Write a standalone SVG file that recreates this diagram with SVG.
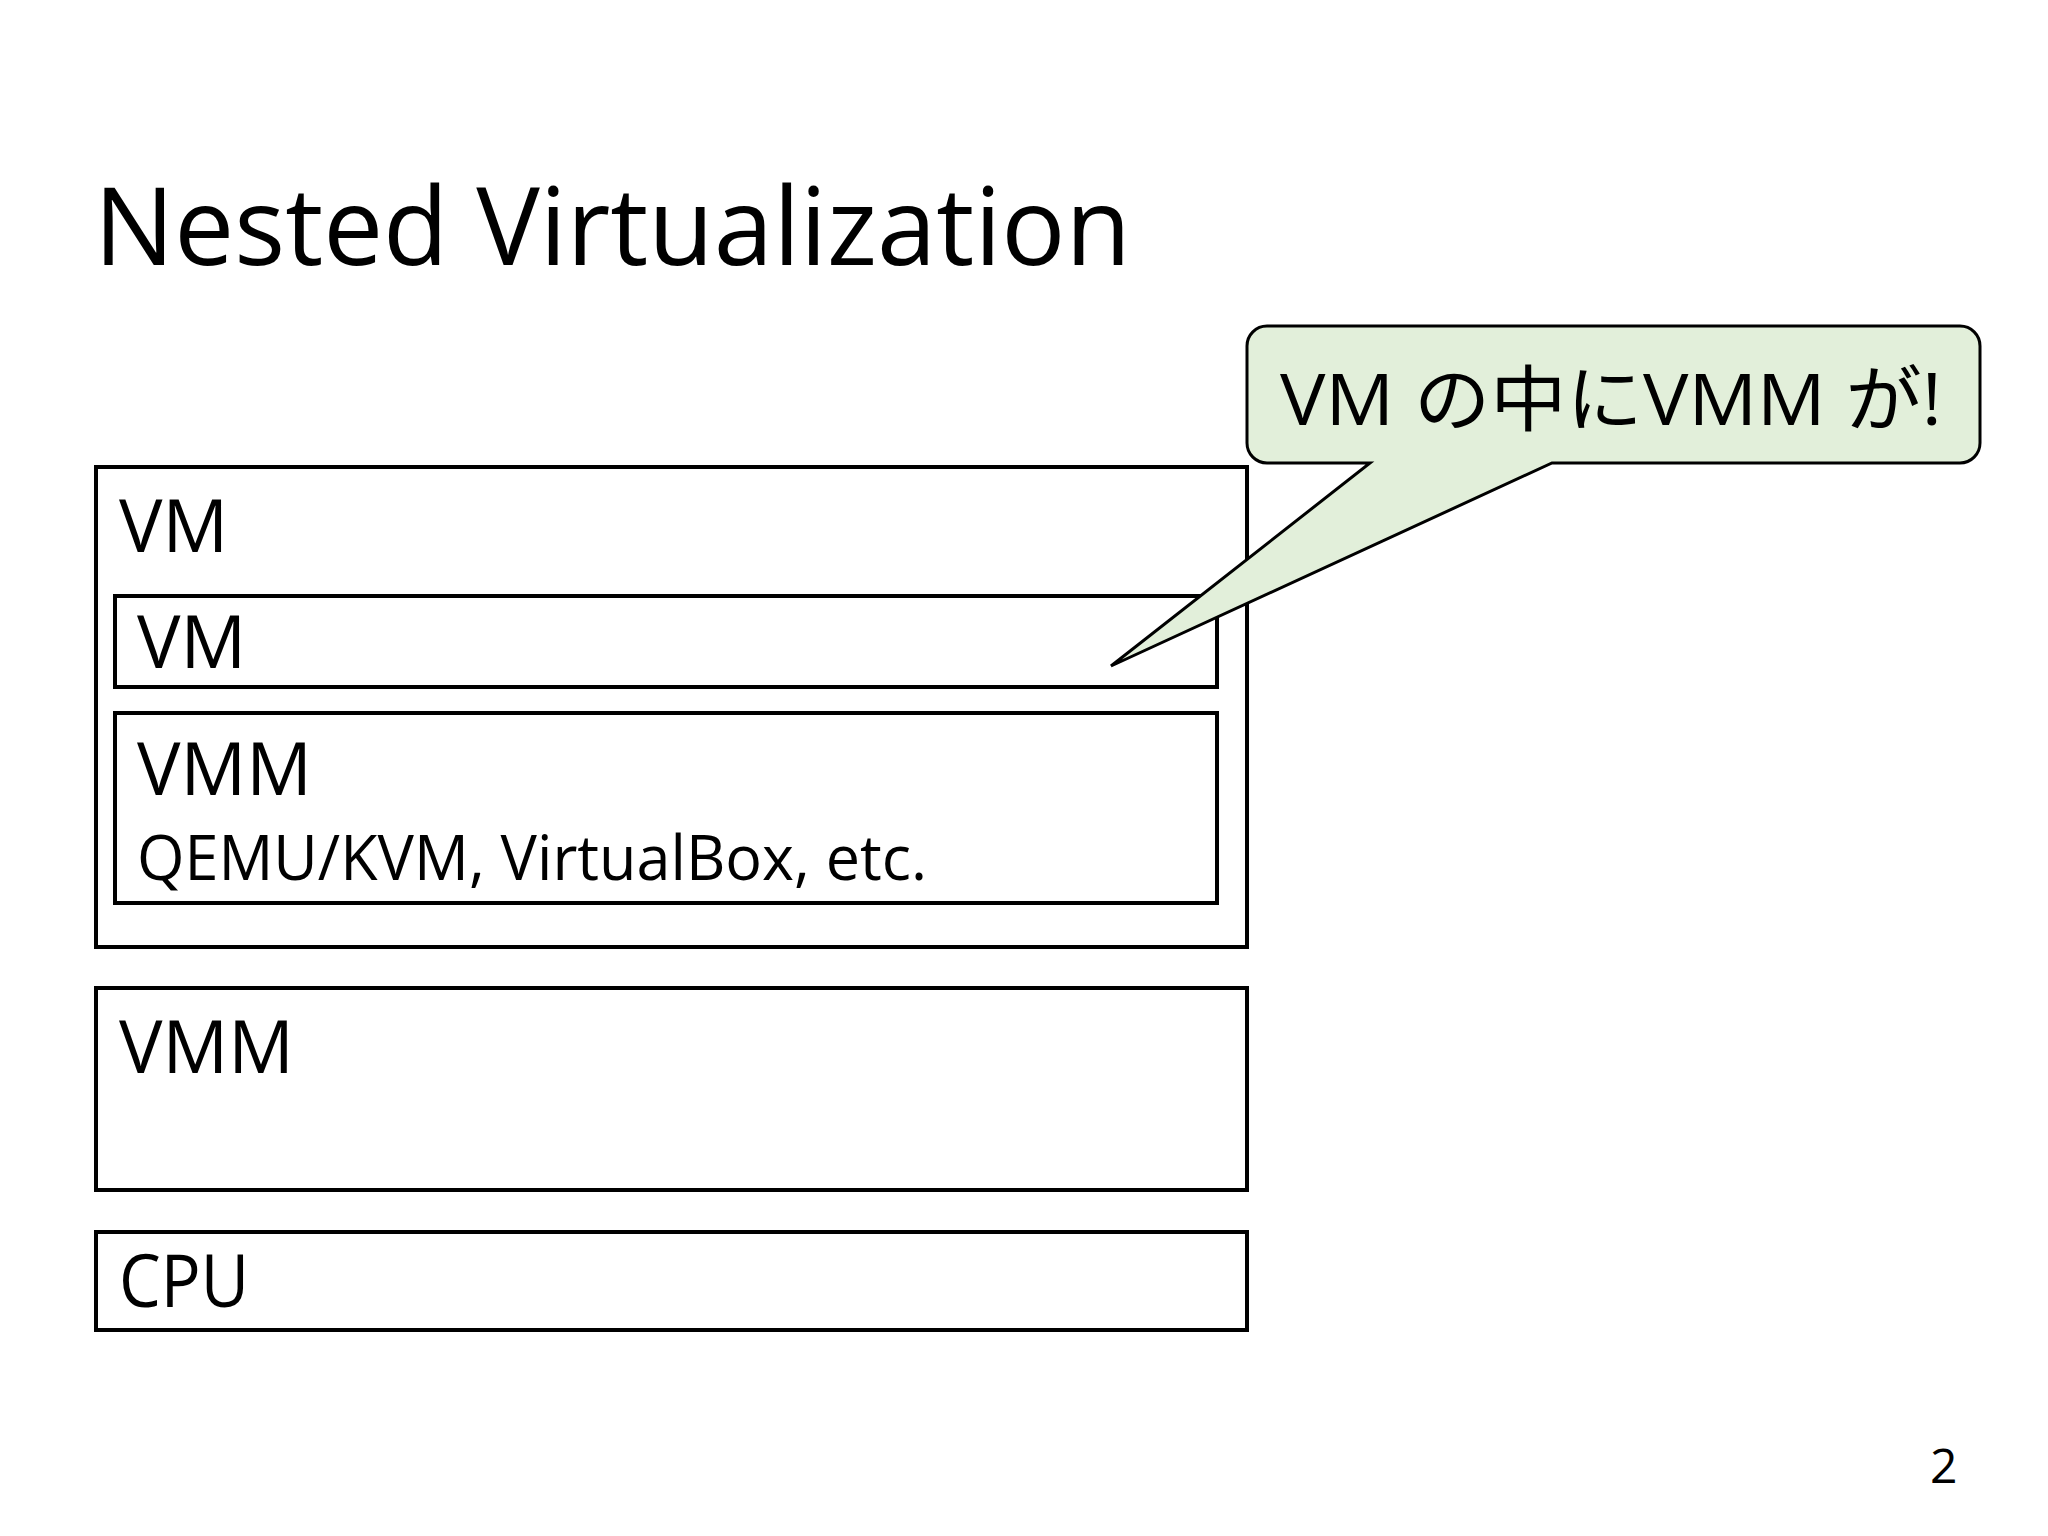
<svg xmlns="http://www.w3.org/2000/svg" width="2048" height="1536" viewBox="0 0 2048 1536">
<style>
.box{fill:#fff;stroke:#000;stroke-width:4}
.t{font-family:"Open Sans","Noto Sans CJK JP",sans-serif;fill:#000}
.big{font-size:73px}
.sm{font-size:62px}
</style>
<rect width="2048" height="1536" fill="#fff"/>
<text class="t" x="94" y="265" font-size="108" textLength="1037" lengthAdjust="spacingAndGlyphs">Nested Virtualization</text>
<g id="vm-outer">
<rect class="box" x="96" y="467" width="1151" height="480"/>
<text class="t big" x="119" y="552">VM</text>
</g>
<g id="vm-inner">
<rect class="box" x="115" y="596" width="1102" height="91"/>
<text class="t big" x="137" y="668">VM</text>
</g>
<g id="vmm-inner">
<rect class="box" x="115" y="713" width="1102" height="190"/>
<text class="t big" x="137" y="795">VMM</text>
<text class="t sm" x="137" y="880" textLength="790" lengthAdjust="spacingAndGlyphs">QEMU/KVM, VirtualBox, etc.</text>
</g>
<g id="vmm">
<rect class="box" x="96" y="988" width="1151" height="202"/>
<text class="t big" x="119" y="1073">VMM</text>
</g>
<g id="cpu">
<rect class="box" x="96" y="1232" width="1151" height="98"/>
<text class="t big" x="119" y="1307" textLength="130" lengthAdjust="spacingAndGlyphs">CPU</text>
</g>
<g id="callout">
<path d="M1267,326 H1960 A20,20 0 0 1 1980,346 V443 A20,20 0 0 1 1960,463 H1552 L1111,666 L1370,463 H1267 A20,20 0 0 1 1247,443 V346 A20,20 0 0 1 1267,326 Z" fill="#e2efda" stroke="#000" stroke-width="3" stroke-linejoin="miter"/>
<text class="t" x="1280" y="425" font-size="72" textLength="662" lengthAdjust="spacingAndGlyphs">VM の中にVMM が!</text>
</g>
<g id="connectors"></g>
<text class="t" x="1930" y="1483" font-size="48">2</text>
</svg>
